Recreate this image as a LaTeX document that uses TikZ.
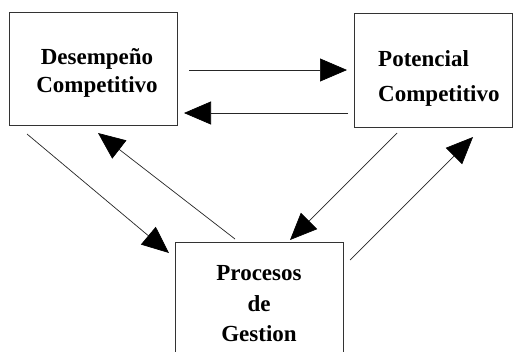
\documentclass[tikz,border=0pt]{standalone}
\usepackage{fontspec}
\setmainfont{Liberation Serif}
\usetikzlibrary{arrows.meta}
\begin{document}
\begin{tikzpicture}[x=1pt,y=-1pt,
  box/.style={draw=black!80,line width=1pt,inner sep=0pt},
  lbl/.style={font=\bfseries\fontsize{23}{23}\selectfont,inner sep=0pt,anchor=base},
  conn/.style={draw=black!85,line width=0.7pt,-{Triangle[length=27pt,width=23pt,color=black]}}]
\useasboundingbox[fill=white] (0,0) rectangle (514,351);
% boxes
\node[box,minimum width=168pt,minimum height=113pt] (A) at (93,68.5) {};
\node[box,minimum width=158pt,minimum height=114pt] (B) at (433,70) {};
\node[box,minimum width=168pt,minimum height=120pt] (C) at (259,302) {};
% texts
\node[lbl] (a1) at (97,64) {Desempeño};
\node[lbl] (a2) at (97,92) {Competitivo};
\node[lbl,anchor=base west] (b1) at (378,66) {Potencial};
\node[lbl,anchor=base west] (b2) at (378,101) {Competitivo};
\node[lbl] (c1) at (259,280) {Procesos};
\node[lbl] (c2) at (259,311) {de};
\node[lbl] (c3) at (259,341) {Gestion};
% connector end points
\coordinate (p1s) at (189,70);  \coordinate (p1e) at (347,70);
\coordinate (p2s) at (348,113); \coordinate (p2e) at (184,113);
\coordinate (p3s) at (27,134);  \coordinate (p3e) at (169,253);
\coordinate (p4s) at (235,239); \coordinate (p4e) at (98,133);
\coordinate (p5s) at (397,133); \coordinate (p5e) at (290,240);
\coordinate (p6s) at (350,260); \coordinate (p6e) at (473,137);
\draw[conn] (p1s) -- (p1e);
\draw[conn] (p2s) -- (p2e);
\draw[conn] (p3s) -- (p3e);
\draw[conn] (p4s) -- (p4e);
\draw[conn] (p5s) -- (p5e);
\draw[conn] (p6s) -- (p6e);
\end{tikzpicture}
\end{document}
